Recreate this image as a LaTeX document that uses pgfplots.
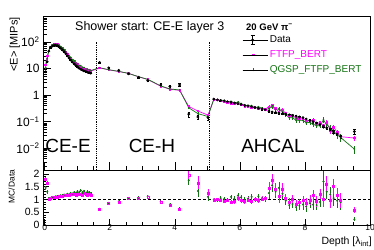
\documentclass[border=0pt]{standalone}
\usepackage{fontspec}
\setmainfont{Liberation Sans}
\usepackage{pgfplots}
\pgfplotsset{compat=1.18}
\usepackage{pgfplotstable}
\definecolor{mag}{RGB}{255,0,255}
\definecolor{grn}{RGB}{20,115,20}

\pgfplotstableread{
x y e
0.03 7.5 0.4
0.08 18 0.6
0.13 45 1.5
0.18 62 2
0.24 70 2
0.29 74 2
0.34 75 2
0.39 72 2
0.44 66 2
0.49 58 1.7
0.55 50 1.5
0.60 43 1.3
0.65 36 1.1
0.70 30 0.9
0.75 25 0.8
0.80 21 0.7
0.85 17.5 0.6
0.91 15 0.5
0.96 13 0.4
1.01 11.5 0.4
1.06 10.3 0.35
1.11 9.4 0.3
1.16 8.7 0.3
1.21 8.1 0.3
1.27 7.7 0.3
1.32 7.3 0.3
1.37 7.0 0.3
1.42 6.7 0.3
1.69 17 1.0
1.97 10.5 0.6
2.28 8.5 0.5
2.58 6.3 0.4
2.89 4.6 0.3
3.17 3.5 0.25
3.57 2.4 0.3
3.85 2.1 0.3
4.15 2.4 0.3
4.43 0.19 0.04
4.71 0.15 0.03
5.02 0.14 0.03
5.20 0.70 0.03
5.31 0.66 0.03
5.41 0.62 0.03
5.52 0.60 0.03
5.62 0.56 0.03
5.73 0.53 0.03
5.83 0.50 0.03
5.94 0.47 0.025
6.04 0.44 0.025
6.15 0.41 0.02
6.25 0.39 0.02
6.36 0.36 0.02
6.46 0.34 0.02
6.57 0.32 0.02
6.68 0.30 0.02
6.78 0.28 0.02
6.89 0.25 0.015
6.99 0.23 0.015
7.10 0.22 0.015
7.20 0.21 0.015
7.31 0.20 0.015
7.41 0.19 0.015
7.52 0.18 0.015
7.62 0.17 0.015
7.73 0.16 0.015
7.83 0.15 0.012
7.94 0.14 0.012
8.04 0.125 0.01
8.15 0.11 0.01
8.25 0.10 0.01
8.36 0.088 0.008
8.46 0.078 0.008
8.57 0.068 0.007
8.67 0.058 0.006
8.78 0.049 0.005
8.88 0.041 0.005
8.99 0.034 0.004
9.10 0.028 0.004
9.52 0.042 0.008
}\datatop

\pgfplotstableread{
x y e
0.03 13.5 0.5
0.08 29.7 0.8
0.13 45.9 1
0.18 64.5 1
0.24 74.9 1
0.29 79.9 1
0.34 82.5 1
0.39 79.2 1
0.44 73.9 1
0.49 65.5 1
0.55 57.0 1
0.60 49.5 0.8
0.65 41.8 0.7
0.70 35.1 0.6
0.75 29.5 0.5
0.80 25.2 0.5
0.85 20.8 0.4
0.91 18.2 0.4
0.96 15.3 0.3
1.01 14.0 0.3
1.06 12.4 0.3
1.11 11.5 0.3
1.16 10.2 0.3
1.21 10.0 0.3
1.27 9.2 0.3
1.32 8.4 0.3
1.37 8.5 0.3
1.42 7.9 0.3
1.69 10.5 0.3
1.97 8.9 0.3
2.28 7.65 0.25
2.58 6.6 0.2
2.89 4.85 0.15
3.17 3.85 0.12
3.57 2.15 0.08
3.85 1.65 0.06
4.15 1.5 0.06
4.43 0.37 0.02
4.71 0.25 0.015
5.02 0.175 0.012
5.20 0.68 0.04
5.31 0.66 0.04
5.41 0.60 0.04
5.52 0.56 0.04
5.62 0.54 0.04
5.73 0.48 0.035
5.83 0.46 0.035
5.94 0.49 0.035
6.04 0.42 0.03
6.15 0.38 0.03
6.25 0.38 0.03
6.36 0.335 0.03
6.46 0.34 0.03
6.57 0.31 0.03
6.68 0.305 0.03
6.78 0.295 0.03
6.89 0.36 0.05
6.99 0.40 0.06
7.10 0.31 0.05
7.20 0.235 0.04
7.31 0.28 0.04
7.41 0.20 0.03
7.52 0.162 0.025
7.62 0.173 0.025
7.73 0.131 0.02
7.83 0.132 0.02
7.94 0.133 0.02
8.04 0.106 0.02
8.15 0.108 0.02
8.25 0.115 0.02
8.36 0.081 0.015
8.46 0.094 0.015
8.57 0.069 0.015
8.67 0.093 0.02
8.78 0.047 0.012
8.88 0.062 0.015
8.99 0.039 0.01
9.10 0.027 0.008
9.52 0.024 0.005
}\magtop

\pgfplotstableread{
x y e
0.03 10.9 0.5
0.08 23.4 0.8
0.13 47.3 1
0.18 65.7 1
0.24 75.6 1
0.29 81.4 1
0.34 84.0 1
0.39 81.4 1
0.44 75.2 1
0.49 67.3 1
0.55 58.5 1
0.60 51.2 0.8
0.65 42.5 0.7
0.70 36.6 0.6
0.75 30.0 0.5
0.80 26.3 0.5
0.85 21.5 0.4
0.91 19.2 0.4
0.96 16.3 0.3
1.01 15.2 0.3
1.06 13.0 0.3
1.11 12.7 0.3
1.16 11.1 0.3
1.21 10.8 0.3
1.27 9.6 0.3
1.32 9.5 0.3
1.37 8.9 0.3
1.42 8.4 0.3
1.69 10.7 0.3
1.97 9.0 0.3
2.28 7.8 0.25
2.58 6.5 0.2
2.89 4.9 0.15
3.17 3.9 0.12
3.57 2.2 0.08
3.85 1.7 0.06
4.15 1.55 0.06
4.43 0.33 0.03
4.71 0.20 0.02
5.02 0.155 0.012
5.20 0.70 0.04
5.31 0.63 0.04
5.41 0.65 0.04
5.52 0.61 0.04
5.62 0.55 0.04
5.73 0.58 0.035
5.83 0.51 0.035
5.94 0.54 0.035
6.04 0.475 0.03
6.15 0.41 0.03
6.25 0.40 0.03
6.36 0.40 0.03
6.46 0.33 0.03
6.57 0.36 0.03
6.68 0.315 0.03
6.78 0.28 0.03
6.89 0.31 0.05
6.99 0.36 0.06
7.10 0.29 0.05
7.20 0.30 0.05
7.31 0.24 0.04
7.41 0.18 0.03
7.52 0.14 0.025
7.62 0.139 0.025
7.73 0.112 0.02
7.83 0.112 0.02
7.94 0.112 0.02
8.04 0.090 0.018
8.15 0.094 0.018
8.25 0.080 0.016
8.36 0.069 0.014
8.46 0.070 0.014
8.57 0.116 0.03
8.67 0.075 0.018
8.78 0.059 0.015
8.88 0.043 0.012
8.99 0.032 0.01
9.10 0.025 0.008
9.52 0.0092 0.003
}\grntop

\pgfplotstableread{
x y e
0.03 1.80 0.08
0.08 1.65 0.07
0.13 1.02 0.03
0.18 1.04 0.03
0.24 1.07 0.03
0.29 1.08 0.03
0.34 1.10 0.03
0.39 1.10 0.03
0.44 1.12 0.03
0.49 1.13 0.03
0.55 1.14 0.03
0.60 1.15 0.03
0.65 1.16 0.03
0.70 1.17 0.03
0.75 1.18 0.03
0.80 1.20 0.03
0.85 1.19 0.04
0.91 1.21 0.04
0.96 1.18 0.04
1.01 1.22 0.04
1.06 1.20 0.04
1.11 1.22 0.04
1.16 1.17 0.04
1.21 1.24 0.04
1.27 1.19 0.04
1.32 1.15 0.04
1.37 1.21 0.04
1.42 1.18 0.04
1.69 0.62 0.04
1.97 0.85 0.05
2.28 0.90 0.05
2.58 1.05 0.05
2.89 1.05 0.05
3.17 1.10 0.06
3.57 0.90 0.06
3.85 0.78 0.06
4.15 0.63 0.05
4.43 1.95 0.15
4.71 1.65 0.25
5.02 1.25 0.15
5.20 0.97 0.07
5.31 1.00 0.07
5.41 0.97 0.07
5.52 0.93 0.07
5.62 0.96 0.07
5.73 0.90 0.07
5.83 0.92 0.10
5.94 1.05 0.10
6.04 0.96 0.10
6.15 0.93 0.10
6.25 0.98 0.10
6.36 0.93 0.10
6.46 1.00 0.10
6.57 0.97 0.10
6.68 1.02 0.10
6.78 1.05 0.10
6.89 1.44 0.25
6.99 1.75 0.25
7.10 1.40 0.25
7.20 1.12 0.25
7.31 1.40 0.25
7.41 1.05 0.15
7.52 0.90 0.15
7.62 1.02 0.15
7.73 0.82 0.15
7.83 0.88 0.15
7.94 0.95 0.20
8.04 0.85 0.20
8.15 0.98 0.20
8.25 1.15 0.20
8.36 0.92 0.20
8.46 1.20 0.20
8.57 1.02 0.30
8.67 1.60 0.30
8.78 0.95 0.30
8.88 1.50 0.30
8.99 1.15 0.30
9.10 0.95 0.30
9.52 0.57 0.12
}\magratio

\pgfplotstableread{
x y e
0.03 1.45 0.08
0.08 1.30 0.07
0.13 1.05 0.03
0.18 1.06 0.03
0.24 1.08 0.03
0.29 1.10 0.03
0.34 1.12 0.03
0.39 1.13 0.03
0.44 1.14 0.03
0.49 1.16 0.03
0.55 1.17 0.03
0.60 1.19 0.03
0.65 1.18 0.03
0.70 1.22 0.03
0.75 1.20 0.03
0.80 1.25 0.03
0.85 1.23 0.04
0.91 1.28 0.04
0.96 1.25 0.04
1.01 1.32 0.05
1.06 1.26 0.05
1.11 1.35 0.05
1.16 1.28 0.05
1.21 1.33 0.05
1.27 1.25 0.05
1.32 1.30 0.05
1.37 1.27 0.05
1.42 1.25 0.05
1.69 0.63 0.04
1.97 0.86 0.05
2.28 0.92 0.05
2.58 1.03 0.05
2.89 1.07 0.05
3.17 1.12 0.06
3.57 0.92 0.06
3.85 0.80 0.06
4.15 0.65 0.05
4.43 1.75 0.20
4.71 1.33 0.25
5.02 1.10 0.15
5.20 1.00 0.07
5.31 0.95 0.07
5.41 1.05 0.07
5.52 1.02 0.07
5.62 0.98 0.07
5.73 1.10 0.07
5.83 1.02 0.10
5.94 1.15 0.10
6.04 1.08 0.10
6.15 1.00 0.10
6.25 1.03 0.10
6.36 1.10 0.10
6.46 0.98 0.10
6.57 1.12 0.10
6.68 1.05 0.10
6.78 1.00 0.10
6.89 1.25 0.25
6.99 1.55 0.25
7.10 1.30 0.25
7.20 1.45 0.25
7.31 1.22 0.25
7.41 0.95 0.15
7.52 0.78 0.15
7.62 0.82 0.15
7.73 0.70 0.15
7.83 0.75 0.15
7.94 0.80 0.20
8.04 0.72 0.20
8.15 0.85 0.20
8.25 0.80 0.20
8.36 0.78 0.20
8.46 0.90 0.20
8.57 1.70 0.40
8.67 1.30 0.30
8.78 1.20 0.30
8.88 1.05 0.30
8.99 0.95 0.30
9.10 0.90 0.30
9.52 0.22 0.08
}\grnratio

\pgfplotsset{
  rootaxis/.style={
    scale only axis, width=327pt,
    xmin=-0.05, xmax=10,
    tick align=inside, xtick pos=bottom, ytick pos=left,
    axis line style={line width=0.6pt},
    every tick/.style={black, line width=0.5pt},
    major tick length=8pt, minor tick length=4pt,
    xtick={0,2,4,6,8,10}, minor x tick num=3,
    /pgf/number format/assume math mode=true,
  },
}

\begin{document}
\begin{tikzpicture}
\useasboundingbox (-43pt,-79pt) rectangle (331pt,170pt);
\begin{axis}[rootaxis, at={(0pt,0pt)}, anchor=south west, height=154pt,
  ymode=log, ymin=0.0015, ymax=950,
  xticklabels={},
  ytick={0.01,0.1,1,10,100},
  yticklabels={10\textsuperscript{−2},10\textsuperscript{−1},1,10,10\textsuperscript{2}},
  minor ytick={0.002,0.003,0.004,0.005,0.006,0.007,0.008,0.009,0.02,0.03,0.04,0.05,0.06,0.07,0.08,0.09,0.2,0.3,0.4,0.5,0.6,0.7,0.8,0.9,2,3,4,5,6,7,8,9,20,30,40,50,60,70,80,90,200,300,400,500,600,700,800,900},
  yticklabel style={font=\fontsize{12}{12}\selectfont},
  legend style={at={(0.609,0.885)}, anchor=north west, draw=none, fill=none,
    font=\fontsize{10}{12}\selectfont, inner sep=0pt, row sep=2.5pt,
    /tikz/every even column/.append style={column sep=0pt}},
  legend cell align=left,
]
\addplot[black, densely dotted, line width=0.8pt, forget plot] coordinates {(1.58,0.0015) (1.58,100)};
\addplot[black, densely dotted, line width=0.8pt, forget plot] coordinates {(5.07,0.0015) (5.07,100)};

\addplot[mag, line width=0.7pt, mark=square, mark size=0.8pt, forget plot,
  error bars/.cd, y dir=both, y explicit, error mark=none, error bar style={mag, line width=0.6pt}]
  table[x=x, y=y, y error=e] {\magtop};
\addplot[grn, line width=0.7pt, mark=*, mark size=0.5pt, forget plot,
  error bars/.cd, y dir=both, y explicit, error mark=none, error bar style={grn, line width=0.6pt}]
  table[x=x, y=y, y error=e] {\grntop};
\addplot[black, only marks, mark=*, mark size=1.2pt, forget plot,
  error bars/.cd, y dir=both, y explicit, error bar style={black, line width=0.6pt}]
  table[x=x, y=y, y error=e] {\datatop};

\addlegendimage{legend image code/.code={
  \draw[black, line width=0.6pt] (10pt,-4.5pt) -- (10pt,4.5pt);
  \draw[black, line width=0.6pt] (8pt,-4.5pt) -- (12pt,-4.5pt);
  \draw[black, line width=0.6pt] (8pt,4.5pt) -- (12pt,4.5pt);
  \fill[black] (10pt,0pt) circle (1.3pt);
  \path (0pt,0pt) -- (25pt,0pt);}}
\addlegendentry{Data}
\addlegendimage{legend image code/.code={
  \draw[mag, line width=0.7pt] (0pt,0pt) -- (21pt,0pt);
  \draw[mag, line width=0.7pt] plot[mark=square, mark size=0.8pt] coordinates {(10.5pt,0pt)};
  \path (0pt,0pt) -- (25pt,0pt);}}
\addlegendentry{\textcolor{mag}{FTFP\_BERT}}
\addlegendimage{legend image code/.code={
  \draw[grn, line width=0.7pt] (0pt,0pt) -- (21pt,0pt);
  \draw[grn, line width=0.7pt] (10.5pt,-1.5pt) -- (10.5pt,1.5pt);
  \path (0pt,0pt) -- (25pt,0pt);}}
\addlegendentry{\textcolor{grn}{QGSP\_FTFP\_BERT}}
\end{axis}

\begin{axis}[rootaxis, at={(0pt,0pt)}, anchor=north west, height=55pt,
  ymin=0, ymax=2.15,
  ytick={0,0.5,1,1.5,2}, minor y tick num=4,
  major tick length=6pt, minor tick length=3pt,
  yticklabel style={font=\fontsize{10.5}{11}\selectfont},
  xticklabel style={font=\fontsize{8.5}{9}\selectfont, yshift=4pt},
]
\addplot[black, dashed, dash pattern=on 3pt off 2pt, line width=0.8pt] coordinates {(-0.05,1) (10,1)};
\addplot[grn, only marks, mark=*, mark size=0.8pt,
  error bars/.cd, y dir=both, y explicit, error mark=none, error bar style={grn, line width=0.6pt}]
  table[x=x, y=y, y error=e] {\grnratio};
\addplot[mag, only marks, mark=square, mark size=1pt, mark options={line width=0.5pt},
  error bars/.cd, y dir=both, y explicit, error mark=none, error bar style={mag, line width=0.6pt}]
  table[x=x, y=y, y error=e] {\magratio};
\end{axis}

\node[rotate=90, anchor=south east, inner sep=0pt, font=\fontsize{11}{11}\selectfont] at (-23pt,153pt) {\textless E\textgreater\ [MIPs]};
\node[rotate=90, anchor=south, inner sep=0pt, font=\fontsize{8.4}{9}\selectfont] at (-28pt,-16.5pt) {MC/Data};
\node[anchor=east, inner sep=0pt, font=\fontsize{10.5}{11}\selectfont] at (329pt,-72pt) {Depth [λ\textsubscript{int}]};
\node[anchor=west, inner sep=0pt, font=\fontsize{12.5}{13}\selectfont] at (32pt,143pt) {Shower start: CE-E layer 3};
\node[anchor=west, inner sep=0pt, font=\bfseries\fontsize{9.5}{10}\selectfont] at (203pt,143pt) {20 GeV π\textsuperscript{−}};
\node[inner sep=0pt, font=\fontsize{19}{20}\selectfont] at (25pt,24pt) {CE-E};
\node[inner sep=0pt, font=\fontsize{19}{20}\selectfont] at (109pt,24pt) {CE-H};
\node[inner sep=0pt, font=\fontsize{19}{20}\selectfont] at (230pt,24pt) {AHCAL};
\end{tikzpicture}
\end{document}
